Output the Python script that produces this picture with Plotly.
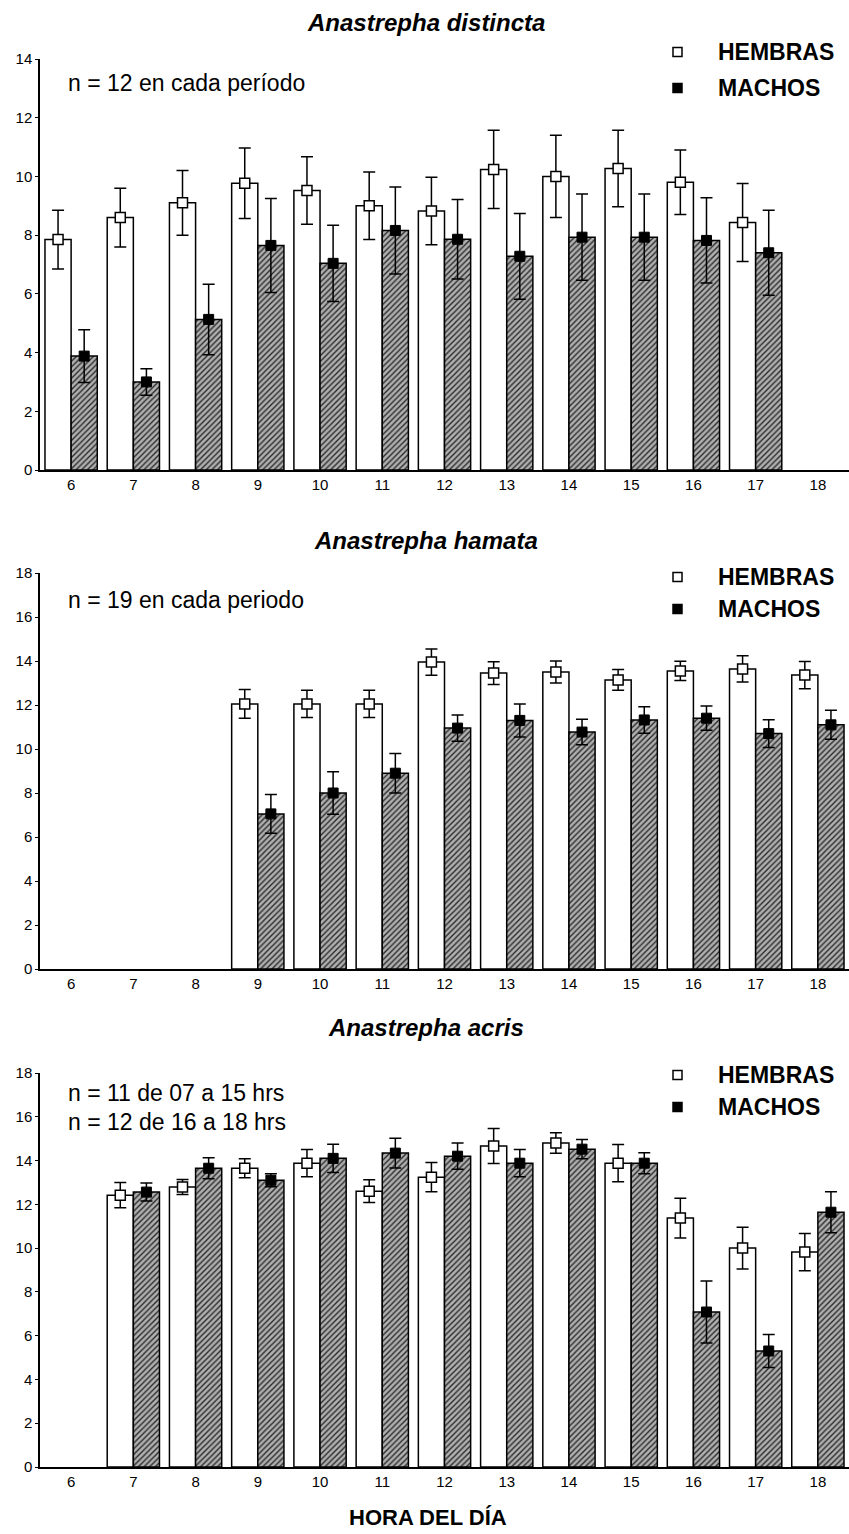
import plotly.graph_objects as go

# Hora del día (eje x común a los tres paneles)
horas = [6, 7, 8, 9, 10, 11, 12, 13, 14, 15, 16, 17, 18]

# Anastrepha distincta: medias y error estándar por hora
distincta_hembras = [7.85, 8.6, 9.1, 9.77, 9.52, 9.0, 8.82, 10.24, 10.0, 10.27, 9.8, 8.43, None]
distincta_hembras_ee = [1.0, 1.0, 1.1, 1.2, 1.15, 1.15, 1.15, 1.33, 1.4, 1.3, 1.1, 1.33, None]
distincta_machos = [3.88, 3.0, 5.13, 7.65, 7.04, 8.16, 7.86, 7.28, 7.93, 7.93, 7.82, 7.4, None]
distincta_machos_ee = [0.9, 0.45, 1.2, 1.6, 1.3, 1.48, 1.35, 1.46, 1.47, 1.47, 1.45, 1.45, None]

# Anastrepha hamata
hamata_hembras = [None, None, None, 12.05, 12.05, 12.05, 13.95, 13.45, 13.5, 13.14, 13.55, 13.64, 13.36]
hamata_hembras_ee = [None, None, None, 0.65, 0.62, 0.62, 0.6, 0.52, 0.5, 0.47, 0.44, 0.6, 0.62]
hamata_machos = [None, None, None, 7.05, 8.0, 8.9, 10.95, 11.3, 10.77, 11.32, 11.4, 10.7, 11.1]
hamata_machos_ee = [None, None, None, 0.88, 0.97, 0.9, 0.6, 0.75, 0.58, 0.6, 0.55, 0.63, 0.66]

# Anastrepha acris
acris_hembras = [None, 12.42, 12.79, 13.65, 13.88, 12.6, 13.24, 14.66, 14.8, 13.88, 11.37, 10.0, 9.82]
acris_hembras_ee = [None, 0.58, 0.34, 0.43, 0.62, 0.52, 0.67, 0.8, 0.47, 0.85, 0.91, 0.95, 0.85]
acris_machos = [None, 12.56, 13.65, 13.1, 14.1, 14.34, 14.2, 13.88, 14.52, 13.88, 7.08, 5.3, 11.64]
acris_machos_ee = [None, 0.41, 0.48, 0.3, 0.64, 0.68, 0.6, 0.62, 0.44, 0.48, 1.42, 0.75, 0.94]

especies = ["Anastrepha distincta", "Anastrepha hamata", "Anastrepha acris"]
notas = [
    ["n = 12 en cada período"],
    ["n = 19 en cada periodo"],
    ["n = 11 de 07 a 15 hrs", "n = 12 de 16 a 18 hrs"],
]
y_max = [14, 18, 18]
y_ticks = [[0, 2, 4, 6, 8, 10, 12, 14],
           [0, 2, 4, 6, 8, 10, 12, 14, 16, 18],
           [0, 2, 4, 6, 8, 10, 12, 14, 16, 18]]

paneles = [
    (distincta_hembras, distincta_hembras_ee, distincta_machos, distincta_machos_ee),
    (hamata_hembras, hamata_hembras_ee, hamata_machos, hamata_machos_ee),
    (acris_hembras, acris_hembras_ee, acris_machos, acris_machos_ee),
]

W, H = 849, 1534
FONT = "Liberation Sans, Arial, Helvetica, sans-serif"
ANCHO = 0.42  # ancho de cada barra en unidades de hora

# Posición vertical de cada panel (píxeles: borde superior, borde inferior)
marcos = [(59, 470), (573, 969), (1073, 1467)]
x_izq = 40


def py(px):
    return 1 - px / H


def px_x(px):
    return px / W


fig = go.Figure()

for i, (hem, hem_ee, mac, mac_ee) in enumerate(paneles):
    sfx = "" if i == 0 else str(i + 1)
    xa, ya = "x" + sfx, "y" + sfx
    x_hem = [h - ANCHO / 2 for h in horas]
    x_mac = [h + ANCHO / 2 for h in horas]

    fig.add_trace(go.Bar(
        x=horas, y=hem, width=ANCHO, offset=-ANCHO,
        marker=dict(color="white", line=dict(color="black", width=1.5)),
        xaxis=xa, yaxis=ya, showlegend=False, hoverinfo="skip",
    ))
    fig.add_trace(go.Bar(
        x=horas, y=mac, width=ANCHO, offset=0,
        marker=dict(
            color="#a8a8a8",
            line=dict(color="black", width=1.5),
            pattern=dict(shape="/", fgcolor="#2a2a2a", bgcolor="#b0b0b0",
                         size=4, solidity=0.35),
        ),
        xaxis=xa, yaxis=ya, showlegend=False, hoverinfo="skip",
    ))
    fig.add_trace(go.Scatter(
        x=x_hem, y=hem, mode="markers",
        marker=dict(symbol="square", size=10, color="white",
                    line=dict(color="black", width=1.5)),
        error_y=dict(type="data", array=hem_ee, symmetric=True,
                     color="black", thickness=1.5, width=6),
        xaxis=xa, yaxis=ya, showlegend=False, name="HEMBRAS",
    ))
    fig.add_trace(go.Scatter(
        x=x_mac, y=mac, mode="markers",
        marker=dict(symbol="square", size=10, color="black",
                    line=dict(color="black", width=1)),
        error_y=dict(type="data", array=mac_ee, symmetric=True,
                     color="black", thickness=1.5, width=6),
        xaxis=xa, yaxis=ya, showlegend=False, name="MACHOS",
    ))

    top, bot = marcos[i]
    fig.update_layout(**{
        "xaxis" + sfx: dict(
            domain=[px_x(x_izq), 1.0], range=[5.5, 18.5], anchor=ya,
            tickmode="array", tickvals=horas, ticktext=[str(h) for h in horas],
            ticks="", showline=True, linecolor="black", linewidth=1.5,
            showgrid=False, zeroline=False, automargin=False,
            tickfont=dict(family=FONT, size=15, color="black"),
        ),
        "yaxis" + sfx: dict(
            domain=[py(bot), py(top)], range=[0, y_max[i]], anchor=xa,
            tickmode="array", tickvals=y_ticks[i],
            ticks="outside", ticklen=3, tickwidth=1, tickcolor="black",
            showline=True, linecolor="black", linewidth=1.5,
            showgrid=False, zeroline=False, automargin=False,
            tickfont=dict(family=FONT, size=15, color="black"),
        ),
    })

# Títulos, notas y leyendas de cada panel
titulos_y = [22, 540, 1027]
notas_y = [[83], [600], [1093, 1122]]
leyenda_y = [(52, 88), (577, 609), (1075, 1107)]
anotaciones = []
formas = []
for i in range(3):
    anotaciones.append(dict(
        text="<b><i>%s</i></b>" % especies[i], x=px_x(426), y=py(titulos_y[i]),
        xref="paper", yref="paper", xanchor="center", yanchor="middle",
        showarrow=False, font=dict(family=FONT, size=24, color="black"),
    ))
    for texto, yy in zip(notas[i], notas_y[i]):
        anotaciones.append(dict(
            text=texto, x=px_x(66), y=py(yy), xref="paper", yref="paper",
            xanchor="left", yanchor="middle", showarrow=False,
            font=dict(family=FONT, size=23, color="black"),
        ))
    for etiqueta, yy, relleno in zip(["HEMBRAS", "MACHOS"], leyenda_y[i], ["white", "black"]):
        anotaciones.append(dict(
            text="<b>%s</b>" % etiqueta, x=px_x(716), y=py(yy),
            xref="paper", yref="paper", xanchor="left", yanchor="middle",
            showarrow=False, font=dict(family=FONT, size=23, color="black"),
        ))
        formas.append(dict(
            type="rect", xref="paper", yref="paper",
            x0=px_x(673), x1=px_x(682), y0=py(yy + 4.5), y1=py(yy - 4.5),
            fillcolor=relleno, line=dict(color="black", width=1.5),
        ))

anotaciones.append(dict(
    text="<b>HORA DEL DÍA</b>", x=px_x(428), y=py(1517),
    xref="paper", yref="paper", xanchor="center", yanchor="middle",
    showarrow=False, font=dict(family=FONT, size=22, color="black"),
))

fig.update_layout(
    width=W, height=H,
    margin=dict(l=0, r=0, t=0, b=0),
    paper_bgcolor="white", plot_bgcolor="white",
    barmode="overlay", showlegend=False,
    annotations=anotaciones, shapes=formas,
    template="none",
)

fig.write_html("out.html")
